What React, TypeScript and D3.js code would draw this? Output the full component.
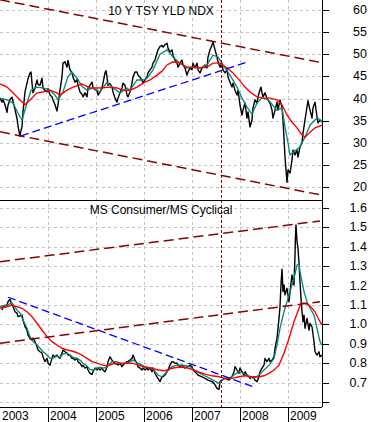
import React from "react";
import * as d3 from "d3";

type P = [number, number];

// time axis: months since Jan 2003
const yearLabels = ["2003", "2004", "2005", "2006", "2007", "2008", "2009"];
const yearStartMonths = [0, 12, 24, 36, 48, 60, 72];
const tsyTicks = [60, 55, 50, 45, 40, 35, 30, 25, 20];
const ratioTicks = [1.6, 1.5, 1.4, 1.3, 1.2, 1.1, 1.0, 0.9, 0.8, 0.7, 0.6];
const ratioTickLabels = ["1.6", "1.5", "1.4", "1.3", "1.2", "1.1", "1.0", "0.9", "0.8", "0.7", ""];
const topTitle = "10 Y TSY YLD NDX";
const bottomTitle = "MS Consumer/MS Cyclical";

const tsyYield: P[] = [[0,40.1],[0.5,39.2],[0.75,39.8],[1.25,38.6],[1.75,36.9],[2,38.5],[2.5,39.8],[3,40.3],[3.25,39.4],[3.75,37.5],[4.25,35.5],[4.5,33.8],[5,31.5],[5.25,32.8],[5.5,33.6],[5.75,37.0],[6.25,41.5],[6.75,43.5],[7,44.5],[7.5,45.8],[7.75,46.0],[8,43.5],[8.25,41.3],[8.75,42.4],[9.25,44.2],[9.5,43.2],[10,43.0],[10.5,44.6],[10.75,42.4],[11.25,41.8],[11.75,41.5],[12,42.3],[12.5,40.8],[13,40.4],[13.25,39.7],[13.75,38.6],[14.25,37.2],[14.5,38.6],[15,41.9],[15.5,44.9],[15.75,48.0],[16.25,48.3],[16.75,47.1],[17,48.6],[17.5,46.5],[18,45.8],[18.25,44.9],[18.75,43.7],[19.25,44.3],[19.5,43.0],[20,41.5],[20.5,41.0],[20.75,40.4],[21.25,41.3],[21.75,40.4],[22,42.4],[22.5,43.0],[23,43.7],[23.25,42.6],[23.75,42.0],[24.25,41.9],[24.5,40.8],[25,41.5],[25.5,42.4],[25.75,43.5],[26.25,45.8],[26.5,46.3],[26.75,44.9],[27,43.0],[27.5,43.4],[28,42.6],[28.25,41.5],[28.75,40.1],[29.25,39.2],[29.5,40.1],[30,41.3],[30.5,42.4],[30.75,43.5],[31.25,43.0],[31.75,40.8],[32,40.4],[32.5,41.5],[33,43.5],[33.25,44.9],[33.75,46.0],[34.25,46.0],[34.5,45.3],[35,44.8],[35.5,44.2],[35.75,43.5],[36.25,44.2],[36.75,44.9],[37,45.8],[37.5,46.5],[38,47.1],[38.25,48.0],[38.75,48.7],[39.25,50.3],[39.5,51.0],[40,51.8],[40.5,52.0],[40.75,51.6],[41.25,52.2],[41.75,52.5],[42,51.4],[42.5,50.5],[43,51.0],[43.25,49.8],[43.75,48.7],[44.25,48.0],[44.5,47.1],[45,48.0],[45.5,48.7],[45.75,47.6],[46.25,46.9],[46.75,45.3],[47,46.0],[47.5,46.9],[48,46.5],[48.25,48.0],[48.75,46.9],[49.25,48.0],[49.5,46.5],[50,45.8],[50.5,46.9],[50.75,47.1],[51.25,47.6],[51.75,46.9],[52,49.4],[52.5,51.0],[53,52.1],[53.25,52.8],[53.75,51.0],[54.25,49.4],[54.5,48.3],[55,47.1],[55.5,48.0],[55.75,46.5],[56.25,45.8],[56.75,46.5],[57,44.9],[57.5,43.7],[58,42.6],[58.25,43.5],[58.75,41.9],[59.25,40.8],[59.5,41.9],[60,38.5],[60.5,36.3],[60.75,37.4],[61.25,39.0],[61.75,35.6],[62,37.0],[62.5,33.6],[63,35.2],[63.25,37.9],[63.75,39.7],[64.25,39.0],[64.5,40.4],[65,42.0],[65.25,42.6],[65.5,41.3],[65.75,40.4],[66.25,41.3],[66.75,40.1],[67,39.7],[67.5,39.0],[68,37.4],[68.25,35.6],[68.75,37.4],[69.25,39.2],[69.5,37.4],[70,39.7],[70.5,38.1],[70.75,35.2],[71.25,26.8],[71.5,23.9],[71.75,21.1],[72,23.9],[72.5,23.2],[73,26.1],[73.25,28.4],[73.75,27.3],[74.25,28.4],[74.5,26.8],[75,29.1],[75.5,30.0],[75.75,32.2],[76.25,35.2],[76.75,38.1],[77,39.5],[77.5,37.4],[78,35.6],[78.25,37.9],[78.75,39.2],[79.25,35.9],[79.5,34.5],[80,35.2],[80.5,34.7]];

const tsyShortMA: P[] = [[0,40.1],[1.75,39.7],[3.25,39.0],[4.5,36.7],[5.5,35.2],[6.75,39.0],[7.75,41.9],[9.25,42.6],[10.75,42.4],[12.5,41.9],[13.75,40.8],[14.5,39.7],[15.75,41.5],[17,44.9],[18,46.0],[19.25,44.6],[20.5,42.8],[21.75,41.9],[23.25,42.4],[25,41.5],[26.75,43.7],[28.25,42.4],[30,41.3],[31.75,42.4],[32.5,41.9],[34.25,44.2],[35.75,44.2],[36.75,44.6],[38.25,46.5],[40,50.0],[41.75,51.0],[43.25,49.4],[45,48.0],[46.75,46.9],[48.25,47.1],[50,46.9],[51.75,47.6],[53.25,49.8],[54.5,49.4],[55.75,47.6],[57.5,45.3],[59.25,42.6],[60.5,40.1],[61.75,38.1],[63,36.5],[64.25,39.0],[65.5,40.1],[67,39.8],[69.25,37.4],[70.5,37.9],[71.25,33.6],[72,30.0],[72.5,27.3],[73.75,28.2],[75,29.1],[76.25,31.3],[77.5,34.0],[78.75,35.2],[79.5,35.6],[80.5,34.7]];

const tsyLongMA: P[] = [[0,43.3],[1.75,42.6],[3.25,41.3],[5,39.7],[6.25,38.6],[7.5,39.7],[9.25,41.3],[10.75,41.5],[12.5,41.9],[14.25,41.3],[15,40.8],[16.75,41.9],[18.25,42.6],[20.5,43.3],[22.5,42.4],[25,42.4],[27.5,42.6],[29.25,42.4],[30.75,41.9],[32.5,41.9],[34.25,42.6],[35.75,43.5],[37.5,44.2],[39.25,45.3],[40.5,46.2],[41.75,47.6],[43.25,48.3],[45,48.0],[46.75,47.1],[48.25,47.1],[50,46.9],[51.75,47.1],[53.25,48.0],[55,48.0],[56.75,46.9],[58.25,45.8],[60,44.0],[61.25,42.6],[62.5,41.5],[64.25,40.4],[65.75,40.1],[67.5,40.1],[69.25,39.7],[70.5,38.6],[71.75,36.3],[73,34.7],[74.25,33.4],[75.5,31.8],[76.25,31.3],[77.5,32.4],[78.75,33.4],[80.5,34.0]];

const ratio: P[] = [[0.5,1.074],[0.75,1.091],[1.75,1.10],[2,1.117],[2.5,1.13],[3,1.10],[3.25,1.091],[3.75,1.065],[4.25,1.058],[4.5,1.04],[5.5,1.048],[5.75,1.023],[6.25,0.988],[6.75,0.971],[7,0.945],[7.5,0.928],[8,0.920],[8.25,0.93],[8.75,0.911],[9.25,0.885],[9.5,0.868],[10,0.859],[10.5,0.852],[10.75,0.833],[11.25,0.808],[11.75,0.825],[12,0.80],[12.5,0.79],[13,0.825],[13.25,0.842],[13.75,0.833],[14.25,0.842],[14.5,0.833],[15,0.825],[15.5,0.852],[15.75,0.868],[16.25,0.859],[16.75,0.852],[17,0.842],[17.5,0.842],[18,0.825],[18.25,0.825],[18.75,0.816],[19.25,0.825],[19.5,0.808],[20,0.80],[20.5,0.782],[20.75,0.79],[21.25,0.775],[21.75,0.782],[22,0.765],[22.5,0.748],[23,0.742],[23.25,0.756],[23.75,0.775],[24.25,0.765],[24.5,0.775],[25,0.765],[25.5,0.775],[25.75,0.765],[26.25,0.756],[26.75,0.78],[27,0.808],[27.5,0.833],[28,0.816],[28.25,0.808],[28.75,0.80],[29.5,0.791],[30,0.80],[30.5,0.782],[30.75,0.79],[31.25,0.80],[31.75,0.808],[32,0.808],[32.5,0.816],[33,0.825],[33.25,0.842],[33.75,0.816],[34.25,0.80],[34.5,0.782],[35,0.775],[35.5,0.765],[35.75,0.775],[36.25,0.765],[36.75,0.775],[37,0.765],[37.5,0.775],[38,0.756],[38.25,0.775],[38.75,0.748],[39.25,0.73],[39.5,0.722],[40,0.705],[40.5,0.73],[40.75,0.73],[41.25,0.739],[41.75,0.756],[42,0.765],[42.5,0.79],[43,0.808],[43.25,0.808],[43.75,0.80],[44.25,0.80],[44.5,0.791],[45,0.782],[45.5,0.79],[45.75,0.782],[46.25,0.775],[46.75,0.782],[47,0.782],[47.5,0.79],[48,0.782],[48.25,0.765],[48.75,0.756],[49.5,0.739],[50.5,0.73],[51.25,0.722],[52,0.713],[53,0.705],[53.5,0.696],[53.75,0.688],[54.25,0.67],[54.75,0.665],[55,0.705],[55.5,0.713],[56.25,0.722],[57.25,0.713],[58,0.73],[58.5,0.756],[58.75,0.782],[59.25,0.765],[59.75,0.748],[60,0.775],[60.5,0.756],[61,0.739],[61.25,0.756],[61.75,0.739],[62.25,0.73],[62.5,0.722],[63,0.73],[63.5,0.722],[63.75,0.713],[64.25,0.705],[64.75,0.73],[65,0.756],[65.5,0.775],[66,0.79],[66.25,0.825],[66.75,0.808],[67.25,0.825],[67.5,0.808],[68,0.816],[68.5,0.833],[68.75,0.877],[69.25,0.928],[69.75,1.031],[70,1.091],[70.25,1.203],[70.5,1.285],[70.75,1.169],[71,1.203],[71.25,1.152],[71.75,1.186],[72.25,1.117],[72.5,1.169],[73,1.255],[73.5,1.203],[73.75,1.358],[73.85,1.444],[74,1.512],[74.25,1.426],[74.5,1.393],[74.75,1.315],[75,1.22],[75.25,1.134],[75.5,1.065],[75.75,1.014],[76,1.048],[76.25,0.98],[76.75,1.031],[77.25,0.971],[77.5,1.006],[78,0.988],[78.5,0.911],[78.75,0.859],[79.25,0.842],[79.75,0.859],[80,0.833],[80.5,0.842]];

const ratioShortMA: P[] = [[0,1.091],[1.75,1.10],[3,1.11],[4.25,1.074],[5,1.058],[5.75,1.023],[6.75,0.98],[7.5,0.937],[8.25,0.911],[9.25,0.894],[10,0.877],[10.75,0.859],[11.75,0.842],[12.5,0.825],[13.25,0.825],[14.25,0.837],[15,0.83],[15.75,0.847],[16.75,0.852],[17.5,0.842],[18.25,0.83],[19.25,0.825],[20,0.816],[20.75,0.80],[21.75,0.786],[22.5,0.768],[23.25,0.765],[24.25,0.775],[25,0.779],[25.75,0.775],[26.75,0.779],[28,0.808],[29.25,0.808],[30.5,0.796],[32,0.803],[33.25,0.816],[34.5,0.80],[36.25,0.782],[38,0.775],[39.5,0.739],[40.5,0.73],[41.75,0.756],[43,0.782],[44.25,0.79],[45.75,0.79],[47.5,0.782],[49.25,0.756],[50.75,0.739],[52.5,0.722],[54.75,0.696],[56,0.722],[57.25,0.722],[58.5,0.739],[59.75,0.756],[61,0.748],[62.25,0.73],[63.5,0.722],[64.75,0.739],[66,0.765],[67.25,0.79],[68.5,0.825],[69.25,0.894],[70,0.98],[71,1.065],[71.75,1.117],[72.5,1.169],[73.5,1.238],[74.25,1.306],[74.75,1.315],[75,1.272],[76,1.169],[76.75,1.117],[77.5,1.083],[78.5,1.048],[79.25,0.98],[80,0.911],[80.5,0.894]];

const ratioLongMA: P[] = [[0,1.083],[1.75,1.091],[3,1.10],[4.25,1.091],[5.5,1.083],[6.75,1.065],[8,1.04],[9.25,1.006],[10.5,0.971],[11.75,0.937],[13,0.911],[14.25,0.894],[15.5,0.877],[16.75,0.868],[18,0.863],[19.25,0.854],[20.5,0.842],[21.75,0.825],[23,0.808],[24.25,0.80],[25.5,0.791],[26.75,0.786],[28,0.796],[29.5,0.80],[31.25,0.80],[33,0.80],[34.5,0.791],[36.25,0.779],[38,0.774],[39.5,0.765],[41.25,0.761],[43,0.774],[44.5,0.779],[46.25,0.779],[48,0.768],[49.5,0.756],[51.25,0.744],[53,0.735],[54.75,0.73],[56.25,0.722],[58,0.722],[59.75,0.73],[61.25,0.735],[63,0.73],[64.75,0.73],[66,0.735],[67.25,0.748],[68.5,0.765],[69.75,0.79],[71,0.851],[72.25,0.928],[73.5,1.014],[74.75,1.083],[75.25,1.109],[76.25,1.109],[77.25,1.10],[78,1.083],[78.75,1.065],[79.75,1.023],[80.5,0.997]];

const tsyChannelUpper: P[] = [[0, 62.3], [80.5, 48.1]];
const tsyChannelLower: P[] = [[0, 32.5], [80.5, 18.2]];
const tsySupport: P[] = [[5.25, 31.6], [62, 48.3]];
const ratioChannelUpper: P[] = [[0, 1.323], [80, 1.533]];
const ratioChannelLower: P[] = [[0, 0.903], [80, 1.117]];
const ratioResistance: P[] = [[2, 1.14], [63.25, 0.679]];
const markerMonth = 55.2;

const W = 371;
const H = 422;
const PR = 322; // plot right edge
const TOP0 = 0, TOP1 = 200, BOT0 = 200, BOT1 = 407;
const FONT = "'Liberation Sans', Arial, sans-serif";

export default function App() {
  const x = d3.scaleLinear().domain([0, 80.5]).range([0, PR]);
  const yT = d3.scaleLinear().domain([20, 60]).range([187.2, 10]);
  const yB = d3.scaleLinear().domain([0.6, 1.6]).range([402, 208]);
  const lineT = d3.line<P>().x((d) => x(d[0])).y((d) => yT(d[1]));
  const lineB = d3.line<P>().x((d) => x(d[0])).y((d) => yB(d[1]));
  const grid = "#c4c4c4";
  const dark = "#8b0000";

  return (
    <div style={{ position: "absolute", left: 0, top: 0 }}>
      <svg width={W} height={H} style={{ display: "block", background: "#fff" }}>
        <defs>
          <clipPath id="clipTop"><rect x={0} y={TOP0} width={PR} height={TOP1 - TOP0} /></clipPath>
          <clipPath id="clipBot"><rect x={0} y={BOT0} width={PR} height={BOT1 - BOT0} /></clipPath>
        </defs>
        {/* gridlines */}
        <g stroke={grid} strokeWidth={1} strokeDasharray="3,3" shapeRendering="crispEdges">
          {tsyTicks.map((t) => (
            <line key={"gt" + t} x1={0} x2={PR} y1={Math.round(yT(t)) + 0.5} y2={Math.round(yT(t)) + 0.5} />
          ))}
          {ratioTicks.map((t) => (
            <line key={"gb" + t} x1={0} x2={PR} y1={Math.round(yB(t)) + 0.5} y2={Math.round(yB(t)) + 0.5} />
          ))}
          {yearStartMonths.slice(1).map((m) => (
            <line key={"gv" + m} x1={Math.round(x(m)) + 0.5} x2={Math.round(x(m)) + 0.5} y1={TOP0} y2={BOT1} />
          ))}
        </g>
        {/* top panel */}
        <g clipPath="url(#clipTop)" fill="none">
          <path d={lineT(tsyYield) || ""} stroke="#000" strokeWidth={1.4} strokeLinejoin="round" />
          <path d={lineT(tsyShortMA) || ""} stroke="#008878" strokeWidth={1.3} />
          <path d={lineT(tsyLongMA) || ""} stroke="#ff0000" strokeWidth={1.4} />
          <path d={lineT(tsyChannelUpper) || ""} stroke={dark} strokeWidth={1.5} strokeDasharray="10,5" />
          <path d={lineT(tsyChannelLower) || ""} stroke={dark} strokeWidth={1.5} strokeDasharray="10,5" />
          <path d={lineT(tsySupport) || ""} stroke="#0000ff" strokeWidth={1.3} strokeDasharray="8,4" />
        </g>
        {/* bottom panel */}
        <g clipPath="url(#clipBot)" fill="none">
          <path d={lineB(ratio) || ""} stroke="#000" strokeWidth={1.4} strokeLinejoin="round" />
          <path d={lineB(ratioShortMA) || ""} stroke="#008878" strokeWidth={1.3} />
          <path d={lineB(ratioLongMA) || ""} stroke="#ff0000" strokeWidth={1.4} />
          <path d={lineB(ratioChannelUpper) || ""} stroke={dark} strokeWidth={1.5} strokeDasharray="10,5" />
          <path d={lineB(ratioChannelLower) || ""} stroke={dark} strokeWidth={1.5} strokeDasharray="10,5" />
          <path d={lineB(ratioResistance) || ""} stroke="#0000ff" strokeWidth={1.3} strokeDasharray="8,4" />
        </g>
        {/* vertical marker */}
        <line x1={Math.round(x(markerMonth)) + 0.5} x2={Math.round(x(markerMonth)) + 0.5} y1={TOP0} y2={BOT1}
          stroke={dark} strokeWidth={1} strokeDasharray="3,2" />
        {/* frame */}
        <g stroke="#000" strokeWidth={1} shapeRendering="crispEdges">
          <line x1={0} x2={PR} y1={TOP1 + 0.5} y2={TOP1 + 0.5} />
          <line x1={0} x2={PR} y1={BOT1 + 0.5} y2={BOT1 + 0.5} />
          <line x1={PR + 0.5} x2={PR + 0.5} y1={0} y2={BOT1} />
          {tsyTicks.map((t) => (
            <line key={"tt" + t} x1={PR} x2={PR + 7} y1={Math.round(yT(t)) + 0.5} y2={Math.round(yT(t)) + 0.5} />
          ))}
          {ratioTicks.map((t) => (
            <line key={"tb" + t} x1={PR} x2={PR + 7} y1={Math.round(yB(t)) + 0.5} y2={Math.round(yB(t)) + 0.5} />
          ))}
          {yearStartMonths.slice(1).map((m) => (
            <line key={"ty" + m} x1={Math.round(x(m)) + 0.5} x2={Math.round(x(m)) + 0.5} y1={BOT1} y2={H} />
          ))}
        </g>
        {/* labels */}
        <g fontFamily={FONT} fontSize={12.5} fill="#000">
          {tsyTicks.map((t) => (
            <text key={"lt" + t} x={367} y={yT(t)} textAnchor="end" dominantBaseline="central">{t}</text>
          ))}
          {ratioTicks.map((t, i) => (
            <text key={"lb" + t} x={367} y={yB(t)} textAnchor="end" dominantBaseline="central">{ratioTickLabels[i]}</text>
          ))}
        </g>
        <g fontFamily={FONT} fontSize={12} fill="#000">
          {yearLabels.map((l, i) => (
            <text key={l} x={x(yearStartMonths[i]) + 2} y={419.5}>{l}</text>
          ))}
          <text x={PR / 2} y={15} textAnchor="middle">{topTitle}</text>
          <text x={PR / 2} y={214} textAnchor="middle">{bottomTitle}</text>
        </g>
      </svg>
    </div>
  );
}
